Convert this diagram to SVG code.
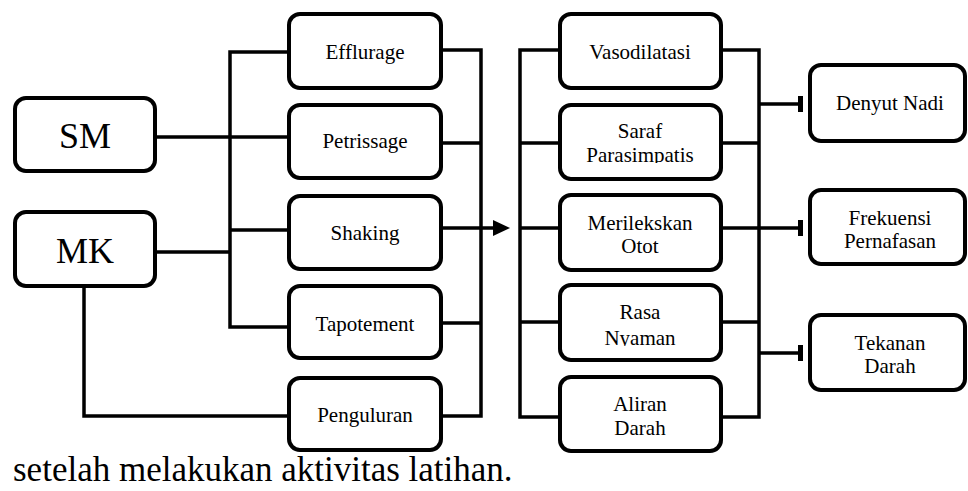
<svg xmlns="http://www.w3.org/2000/svg" width="968" height="491" viewBox="0 0 968 491">
<style>
.box{fill:#fff;stroke:#000;stroke-width:4}
.t{font-family:"Liberation Serif","Times New Roman",serif;font-size:21px;fill:#000;text-anchor:middle}
.big{font-size:36px}
.ln{fill:none;stroke:#000;stroke-width:3.5;stroke-linecap:square;stroke-linejoin:miter}
</style>
<defs>
<clipPath id="c1"><rect x="560" y="100" width="161" height="63"/></clipPath>
<clipPath id="c2"><rect x="560" y="280" width="161" height="66"/></clipPath>
</defs>
<rect width="968" height="491" fill="#fff"/>
<g id="connectors">
<path class="ln" d="M289,52 H230 V327 H289 M155,137 H289 M230,230 H289 M155,252 H230 M84,288 V416 H289"/>
<path class="ln" d="M441,50 H481 V416 H441 M441,143 H481 M441,323 H481 M441,228 H495"/>
<polygon points="493,220 510,228 493,236" fill="#000"/>
<path class="ln" d="M560,50 H520 V417 H560 M520,143 H560 M520,228 H560 M520,322 H560"/>
<path class="ln" d="M721,50 H759 V417 H721 M721,143 H759 M721,322 H759 M721,228 H800 M759,104 H800 M759,353 H800"/>
<rect x="798" y="96" width="5" height="16" fill="#000"/>
<rect x="798" y="220" width="5" height="16" fill="#000"/>
<rect x="798" y="345" width="5" height="16" fill="#000"/>
</g>
<g id="SM"><rect class="box" x="15" y="98" width="140" height="73" rx="11"/><text class="t big" x="85" y="148">SM</text></g>
<g id="MK"><rect class="box" x="15" y="212" width="140" height="74" rx="11"/><text class="t big" x="85" y="263">MK</text></g>
<g id="Efflurage"><rect class="box" x="289" y="14" width="152" height="74" rx="11"/><text class="t" x="365" y="59">Efflurage</text></g>
<g id="Petrissage"><rect class="box" x="289" y="105" width="152" height="73" rx="11"/><text class="t" x="365" y="148">Petrissage</text></g>
<g id="Shaking"><rect class="box" x="289" y="196" width="152" height="73" rx="11"/><text class="t" x="365" y="240">Shaking</text></g>
<g id="Tapotement"><rect class="box" x="289" y="286" width="152" height="72" rx="11"/><text class="t" x="365" y="331">Tapotement</text></g>
<g id="Penguluran"><rect class="box" x="289" y="378" width="152" height="72" rx="11"/><text class="t" x="365" y="422">Penguluran</text></g>
<g id="Vasodilatasi"><rect class="box" x="560" y="14" width="161" height="74" rx="11"/><text class="t" x="640" y="59">Vasodilatasi</text></g>
<g id="SarafParasimpatis"><rect class="box" x="560" y="105" width="161" height="74" rx="11"/><text class="t" x="640" y="138">Saraf</text><text class="t" x="640" y="162" clip-path="url(#c1)">Parasimpatis</text></g>
<g id="MerilekskanOtot"><rect class="box" x="560" y="195" width="161" height="75" rx="11"/><text class="t" x="640" y="230">Merilekskan</text><text class="t" x="640" y="253">Otot</text></g>
<g id="RasaNyaman"><rect class="box" x="560" y="285" width="161" height="75" rx="11"/><text class="t" x="640" y="319">Rasa</text><text class="t" x="640" y="345" clip-path="url(#c2)">Nyaman</text></g>
<g id="AliranDarah"><rect class="box" x="560" y="377" width="161" height="74" rx="11"/><text class="t" x="640" y="411">Aliran</text><text class="t" x="640" y="435">Darah</text></g>
<g id="DenyutNadi"><rect class="box" x="810" y="65" width="155" height="76" rx="11"/><text class="t" x="890" y="110">Denyut Nadi</text></g>
<g id="FrekuensiPernafasan"><rect class="box" x="810" y="190" width="155" height="74" rx="11"/><text class="t" x="890" y="225">Frekuensi</text><text class="t" x="890" y="248">Pernafasan</text></g>
<g id="TekananDarah"><rect class="box" x="810" y="315" width="155" height="75" rx="11"/><text class="t" x="890" y="350">Tekanan</text><text class="t" x="890" y="373">Darah</text></g>
<text x="13" y="481" style="font-family:'Liberation Serif','Times New Roman',serif;font-size:35px;fill:#000">setelah melakukan aktivitas latihan.</text>
</svg>
